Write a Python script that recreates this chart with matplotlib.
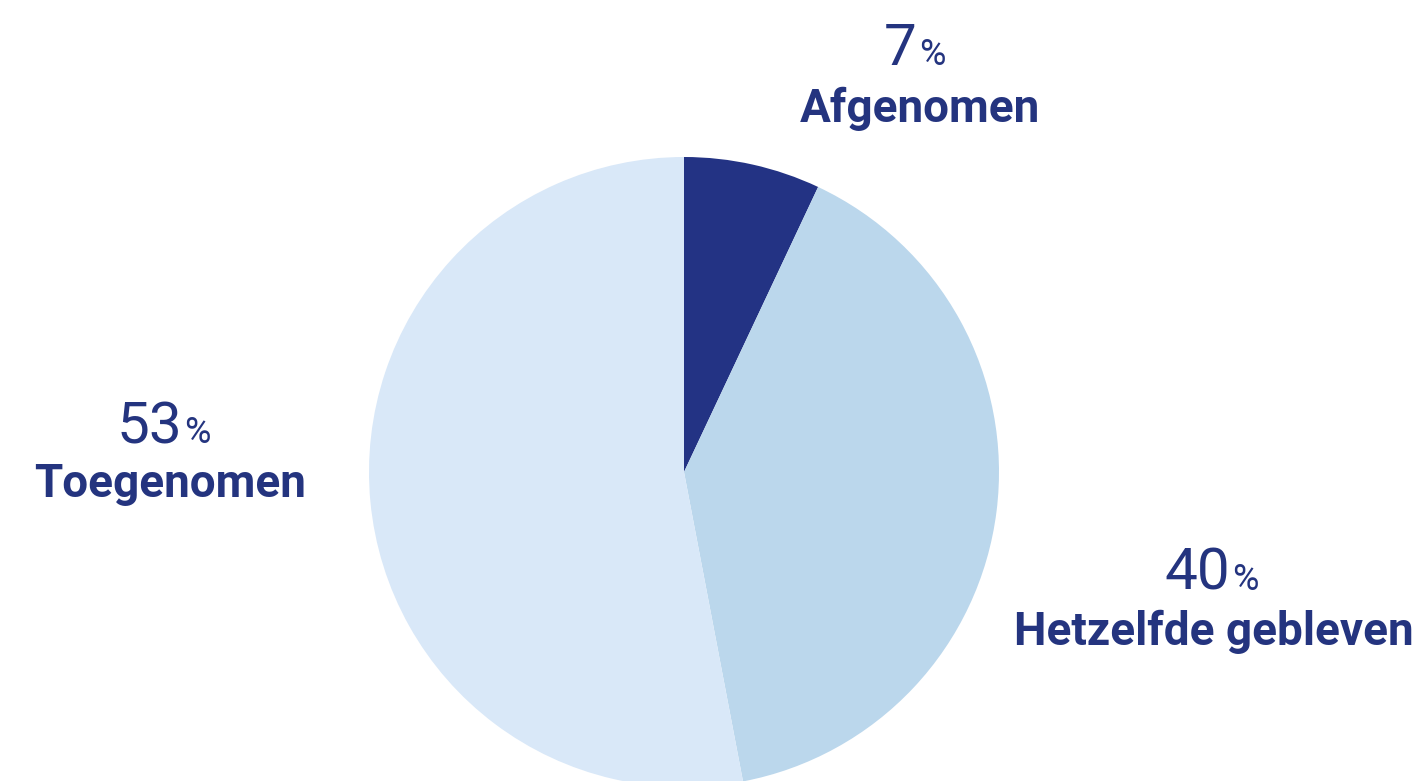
import matplotlib
matplotlib.use("Agg")
import matplotlib.pyplot as plt

# data
labels = ["Afgenomen", "Hetzelfde gebleven", "Toegenomen"]
values = [7, 40, 53]
colors = ["#233384", "#bbd7ec", "#d9e8f8"]
text_color = "#24347f"

# label anchor (pixel coords): split x between number and %, baseline of number, baseline of name, centre of name
lab_pos = {
    "Afgenomen": (917, 65, 122, 920),
    "Hetzelfde gebleven": (1230, 590, 645, 1214),
    "Toegenomen": (182, 443, 497, 170),
}

fig = plt.figure(figsize=(14.25, 7.81), dpi=100)
ax = fig.add_axes([0, 0, 1, 1])

# y axis runs downward, so -90 / counterclock gives top start, clockwise on screen
ax.pie(values, colors=colors, startangle=-90, counterclock=True,
       center=(684, 472), radius=315, wedgeprops=dict(linewidth=0))
ax.set_xlim(0, 1425)
ax.set_ylim(781, 0)
ax.set_aspect("equal")
ax.axis("off")

for lab, v in zip(labels, values):
    xs, yb_num, yb_lab, xc = lab_pos[lab]
    ax.text(xs, yb_num, str(v), ha="right", va="baseline", fontsize=42,
            fontfamily="Roboto", fontweight="normal", color=text_color)
    ax.text(xs + 2, yb_num, "%", ha="left", va="baseline", fontsize=26,
            fontfamily="Roboto", fontweight="normal", color=text_color)
    ax.text(xc, yb_lab, lab, ha="center", va="baseline", fontsize=33,
            fontfamily="Roboto", fontweight="bold", color=text_color)

fig.savefig("out.png", dpi=100)
